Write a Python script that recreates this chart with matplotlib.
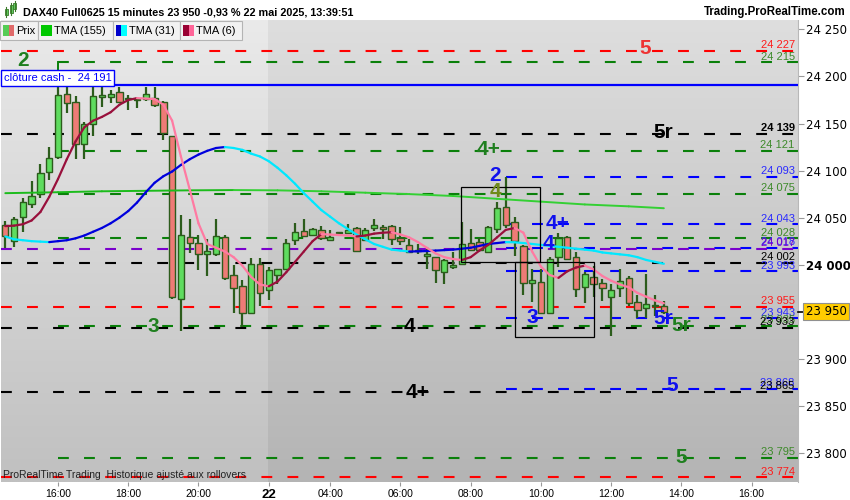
import numpy as np
import matplotlib
matplotlib.use("Agg")
import matplotlib.pyplot as plt
from matplotlib.collections import LineCollection
from matplotlib.patches import Rectangle
import matplotlib.transforms as mtransforms

plt.rcParams['font.family'] = ['Liberation Sans', 'DejaVu Sans']

# ---------------- data ----------------
bars = list(range(-6, 70))
opens = [24042, 24025, 24051, 24065, 24075, 24099, 24114, 24181, 24173, 24128, 24149, 24178, 24178, 24183, 24177, 24175,
         24176, 24177, 24173, 24137, 23964, 24029, 24023, 24011, 24011, 24029, 23989, 23977, 23949, 24001, 23973, 23989,
         23995, 24026, 24036, 24032, 24037, 24026, 24034, 24034, 24039, 24026, 24039, 24040, 24041, 24028, 24021, 24016,
         24009, 24008, 23992, 23998, 24001, 24023, 24024, 24013, 24038, 24061, 24045, 24020, 23981, 23982, 23949, 24008,
         24029, 24008, 23976, 23987, 23981, 23966, 23975, 23986, 23960, 23954, 23956, 23956]
highs = [24046, 24051, 24071, 24089, 24107, 24125, 24190, 24189, 24179, 24152, 24189, 24190, 24186, 24189, 24180, 24178,
         24189, 24189, 24174, 24137, 24053, 24049, 24032, 24027, 24049, 24032, 24000, 23984, 24007, 24007, 23998, 23995,
         24027, 24044, 24049, 24039, 24041, 24037, 24035, 24043, 24040, 24039, 24049, 24042, 24042, 24040, 24027, 24022,
         24019, 24008, 24006, 24014, 24045, 24038, 24028, 24041, 24067, 24093, 24051, 24021, 23995, 23995, 24008, 24034,
         24030, 24014, 23992, 23999, 23985, 23979, 23995, 23988, 23968, 23990, 23968, 23961]
lows = [24018, 24019, 24035, 24060, 24071, 24090, 24112, 24161, 24112, 24112, 24137, 24168, 24172, 24172, 24164, 24166,
        24174, 24168, 24133, 23964, 23930, 24012, 23994, 23988, 24009, 23984, 23949, 23934, 23948, 23956, 23963, 23980,
        23994, 24021, 24030, 24031, 24026, 24025, 24033, 24033, 24014, 24025, 24036, 24027, 24021, 24021, 24013, 24011,
        23995, 23981, 23980, 23995, 24000, 24015, 24015, 24012, 24034, 24039, 24009, 23968, 23960, 23948, 23948, 23998,
        24005, 23966, 23959, 23966, 23961, 23924, 23966, 23956, 23943, 23943, 23945, 23948]
closes = [24031, 24049, 24067, 24073, 24097, 24113, 24180, 24172, 24128, 24149, 24179, 24180, 24181, 24173, 24176, 24176,
          24181, 24170, 24140, 23966, 24032, 24023, 24011, 24015, 24031, 23986, 23975, 23949, 24001, 23970, 23994, 23995,
          24023, 24035, 24031, 24038, 24028, 24029, 24034, 24037, 24015, 24037, 24042, 24038, 24027, 24025, 24014, 24015,
          24011, 23994, 24005, 24000, 24022, 24016, 24016, 24040, 24060, 24042, 24025, 23981, 23984, 23949, 24006, 24028,
          24006, 23974, 23990, 23979, 23975, 23973, 23983, 23959, 23952, 23958, 23957, 23950]

tma6 = [24041, 24041.5, 24043, 24047, 24056, 24072, 24091, 24112, 24131, 24146, 24153, 24157, 24162, 24170, 24175, 24177,
        24176.5, 24176, 24170, 24153, 24115, 24080, 24044, 24022, 24018, 24014, 24008, 23999, 23987, 23979, 23977, 23982,
        23992, 24003, 24014, 24025, 24032.5, 24032, 24031.5, 24031, 24030, 24031, 24033, 24034, 24034.5, 24032, 24029, 24024,
        24018, 24012, 24008, 24006, 24005, 24008, 24015, 24021, 24029, 24037, 24039, 24034, 24014, 23998, 23989, 23986,
        23993, 23997, 23999, 23995, 23988, 23983, 23979, 23976, 23970, 23966, 23962, 23959]
tma31 = [24030, 24027, 24026, 24025, 24024.5, 24024, 24025, 24026, 24028, 24031, 24035, 24039, 24044, 24050, 24057, 24066,
         24077, 24087, 24094, 24099, 24106, 24112, 24117, 24121, 24124, 24125, 24124, 24122, 24118, 24115, 24110, 24103,
         24095, 24086, 24076, 24067, 24058, 24051, 24044, 24038, 24032, 24027, 24022, 24019, 24016, 24015, 24014, 24014.2,
         24014.5, 24015, 24015.5, 24016, 24017, 24018, 24020, 24022, 24023, 24024, 24023.8, 24023, 24022, 24021, 24020,
         24019, 24018, 24017, 24016, 24015, 24013, 24012, 24011, 24010, 24008, 24005, 24003, 24001]
tma155_bars = [-6, 0, 5, 10, 15, 20, 25, 30, 35, 40, 45, 50, 55, 60, 65, 69]
tma155 = [24076, 24077, 24078, 24078.5, 24079, 24079.3, 24079, 24078, 24076.5, 24075, 24073, 24070, 24067, 24064, 24062, 24060]

level_prices = [24227, 24215, 24139, 24121, 24093, 24075, 24043, 24028, 24018, 24017, 24002, 23993, 23955, 23943,
                23935, 23933, 23868, 23865, 23795, 23774]
level_kinds = ['red', 'green', 'black', 'green', 'blue', 'green', 'blue', 'green', 'blue', 'purple', 'black', 'blue',
               'red', 'blue', 'green', 'black', 'blue', 'black', 'green', 'red']
cash_price = 24191

wave_text = ['2', '5', '5r', '4+', '2', '4', '4+', '4', '3', '5r', '5r', '3', '4', '5', '4+', '5']
wave_bar = [-4.0, 66.9, 68.9, 49.0, 49.8, 49.8, 56.9, 55.9, 54.0, 68.9, 71.0, 10.8, 40.0, 69.9, 41.0, 71.0]
wave_price = [24217, 24230, 24140, 24122, 24095, 24078, 24044, 24023, 23944, 23943, 23935, 23934, 23934, 23872, 23864, 23795]
wave_kind = ['green', 'red', 'black', 'green', 'blue', 'olive', 'blue', 'blue', 'blue', 'blue', 'green', 'green',
             'black', 'blue', 'black', 'green']

box_left = [45.95, 52.0]
box_right = [54.95, 61.0]
box_low = [24002.6, 23922.8]
box_high = [24082.3, 24002.6]

ytick_vals = [24250, 24200, 24150, 24100, 24050, 24000, 23900, 23850, 23800]
xtick_bars = [0, 8, 16, 24, 31, 39, 47, 55, 63, 71, 79]
xtick_labels = ['16:00', '18:00', '20:00', '22', '04:00', '06:00', '08:00', '10:00', '12:00', '14:00', '16:00']
day_break = 23.95
last_price = 23950

# ---------------- styles ----------------
line_col = {'red': '#ff0000', 'green': '#0a800a', 'black': '#000000', 'blue': '#0000ff', 'purple': '#7a00cc'}
text_col = {'red': '#ff1a1a', 'green': '#3d8a2a', 'black': '#000000', 'blue': '#2a2aff', 'purple': '#7a00cc'}
wave_col = {'red': '#ee3333', 'green': '#1f7f1f', 'black': '#000000', 'blue': '#1010ee', 'olive': '#6f8a1a'}
start_of = {'green': 0, 'blue': 51}

W, H = 850, 500
fig = plt.figure(figsize=(8.5, 5), dpi=100)
fig.patch.set_facecolor('white')
ax = fig.add_axes([1 / W, 18 / H, 797 / W, 462 / H])
XMIN, XMAX = -6.49, 84.28
YMIN, YMAX = 23769.1, 24260.0


def gradient(top, bot):
    t = np.linspace(0, 1, 256)[:, None, None]
    top = np.array(top, float)[None, None, :] / 255
    bot = np.array(bot, float)[None, None, :] / 255
    return top + (bot - top) * t


ax.imshow(gradient((234, 234, 234), (192, 192, 192)), extent=[XMIN, day_break, YMIN, YMAX],
          aspect='auto', origin='upper', zorder=0, interpolation='bilinear')
ax.imshow(gradient((222, 222, 222), (180, 180, 180)), extent=[day_break, XMAX, YMIN, YMAX],
          aspect='auto', origin='upper', zorder=0, interpolation='bilinear')

DASH = (5.2, 7.3)
# levels
for p, k in zip(level_prices, level_kinds):
    x0 = start_of.get(k, XMIN)
    ax.plot([x0, XMAX], [p, p], color=line_col[k], lw=1.5, dashes=DASH, zorder=2)
    weight = 'bold' if (k == 'black' and p == 24139) else 'normal'
    ax.annotate(f"{p:,}".replace(',', ' '), xy=(83.9, p), xytext=(0, 0.5), textcoords='offset points',
                ha='right', va='bottom', fontsize=8, color=text_col[k], fontweight=weight, zorder=6)
# connector from level 2 down to candle high
ax.plot([0, 0], [level_prices[1], highs[bars.index(0)]], color=line_col['green'], lw=1.4, zorder=2)

# cash close line
ax.axhline(cash_price, color='#0000ff', lw=1.6, zorder=3)
ax.text(-6.2, cash_price + 7.5, f"clôture cash -  {cash_price:,}".replace(',', ' '), fontsize=8, color='#0000ff',
        ha='left', va='center', zorder=7,
        bbox=dict(boxstyle='square,pad=0.25', fc='white', ec='#0000ff', lw=1.0))

# candles
bx = np.array(bars, float)
o = np.array(opens, float); c = np.array(closes, float)
h = np.array(highs, float); l = np.array(lows, float)
up = c >= o
edge = '#2c5c1c'
ax.vlines(bx, l, h, color=edge, lw=1.6, zorder=3)
body_lo = np.minimum(o, c); body_h = np.maximum(np.abs(c - o), 0.8)
ax.bar(bx[up], body_h[up], bottom=body_lo[up], width=0.72, color='#5fdc5f', edgecolor=edge, lw=1.0, zorder=4)
ax.bar(bx[~up], body_h[~up], bottom=body_lo[~up], width=0.72, color='#ee7b76', edgecolor=edge, lw=1.0, zorder=4)


def slope_line(xs, ys, col_up, col_dn, lw, z):
    xs = np.asarray(xs, float); ys = np.asarray(ys, float)
    pts = np.column_stack([xs, ys])
    segs = np.stack([pts[:-1], pts[1:]], axis=1)
    cols = [col_up if d >= 0 else col_dn for d in np.diff(ys)]
    lc = LineCollection(segs, colors=cols, linewidths=lw, zorder=z, capstyle='round', joinstyle='round')
    ax.add_collection(lc)


slope_line(tma155_bars, tma155, '#1cbc1c', '#33d033', 1.4, 5)
slope_line(bars, tma31, '#0000dd', '#00e8ff', 1.6, 5)
slope_line(bars, tma6, '#99103c', '#ff7aa2', 1.6, 5)

# boxes
for a, b, lo, hi in zip(box_left, box_right, box_low, box_high):
    ax.add_patch(Rectangle((a, lo), b - a, hi - lo, fill=False, ec='black', lw=0.9, zorder=6))

# wave labels
for t, xb, yp, k in zip(wave_text, wave_bar, wave_price, wave_kind):
    ax.text(xb, yp, t, fontsize=15, fontweight='bold', color=wave_col[k], ha='center', va='center', zorder=7)

ax.set_xlim(XMIN, XMAX)
ax.set_ylim(YMIN, YMAX)
for s in ['top', 'left', 'bottom']:
    ax.spines[s].set_visible(False)
ax.spines['right'].set_color('#b8b8b8')
ax.spines['right'].set_linewidth(0.8)

ax.yaxis.tick_right()
ax.set_yticks(ytick_vals)
ax.set_yticklabels([f"{v:,}".replace(',', ' ') for v in ytick_vals], fontsize=8.5, family='DejaVu Sans')
for lab, v in zip(ax.get_yticklabels(), ytick_vals):
    if v == 24000:
        lab.set_fontweight('bold')
ax.tick_params(axis='y', length=4, color='#999999', pad=2)

ax.set_xticks(xtick_bars)
ax.set_xticklabels(xtick_labels, fontsize=7.5)
for lab, t in zip(ax.get_xticklabels(), xtick_labels):
    if t == '22':
        lab.set_fontweight('bold'); lab.set_fontsize(9.5)
ax.tick_params(axis='x', length=3, color='#999999', pad=2)

# current price marker
tr = mtransforms.blended_transform_factory(ax.transAxes, ax.transData)
ax.plot([1.0, 1.0065], [last_price, last_price], color='black', lw=1.2, transform=tr, clip_on=False, zorder=8)
ax.text(1.0095, last_price, f"{last_price:,}".replace(',', ' '), transform=tr, fontsize=8.5, family='DejaVu Sans',
        ha='left', va='center', zorder=8,
        bbox=dict(boxstyle='square,pad=0.18', fc='#ffcc00', ec='#909090', lw=0.8))

ax.text(-6.3, 23777, 'ProRealTime Trading  Historique ajusté aux rollovers', fontsize=7.5, color='#222222',
        ha='left', va='center', zorder=7)


# ---------------- header / legend ----------------
def frect(x0, y0, x1, y1, **kw):
    fig.add_artist(Rectangle((x0 / W, 1 - y1 / H), (x1 - x0) / W, (y1 - y0) / H, transform=fig.transFigure, **kw))


frect(0, 0, 850, 20, fc='white', ec='none')
# small candle icon
for cx, yt, yb in [(6, 9, 15), (11, 5, 13), (15, 3, 9)]:
    fig.add_artist(plt.Line2D([cx / W, cx / W], [1 - (yt - 2) / H, 1 - (yb + 2) / H], color='#3a7a2a', lw=0.8,
                              transform=fig.transFigure))
    frect(cx - 1.5, yt, cx + 1.5, yb, fc='#5fcf5f', ec='#3a7a2a', lw=0.6)
fig.text(23 / W, 1 - 12.5 / H, 'DAX40 Full0625 15 minutes 23 950 -0,93 % 22 mai 2025, 13:39:51', fontsize=7.8,
         fontweight='bold', ha='left', va='center')
fig.text(846 / W, 1 - 12.5 / H, 'Trading.ProRealTime.com', fontsize=8.3, fontweight='bold', ha='right', va='center')

legend_items = ['Prix', 'TMA (155)', 'TMA (31)', 'TMA (6)']
legend_bounds = [(0, 37.7), (37.7, 112.7), (112.7, 180.3), (180.3, 242)]
legend_icons = [('#55cc55', '#e06a6a'), ('#00c800', '#00c800'), ('#0000cc', '#00ffff'), ('#990033', '#ff6699')]
for name, (a, b), (c1, c2) in zip(legend_items, legend_bounds, legend_icons):
    frect(a, 21.5, b, 39.5, fc='#f2f2f2', ec='#b4b4b4', lw=0.8)
    frect(a + 3, 25, a + 8.5, 36, fc=c1, ec='none')
    frect(a + 8.5, 25, a + 14, 36, fc=c2, ec='none')
    fig.text((a + 16) / W, 1 - 30.5 / H, name, fontsize=8, ha='left', va='center')

fig.savefig('out.png', dpi=100)
